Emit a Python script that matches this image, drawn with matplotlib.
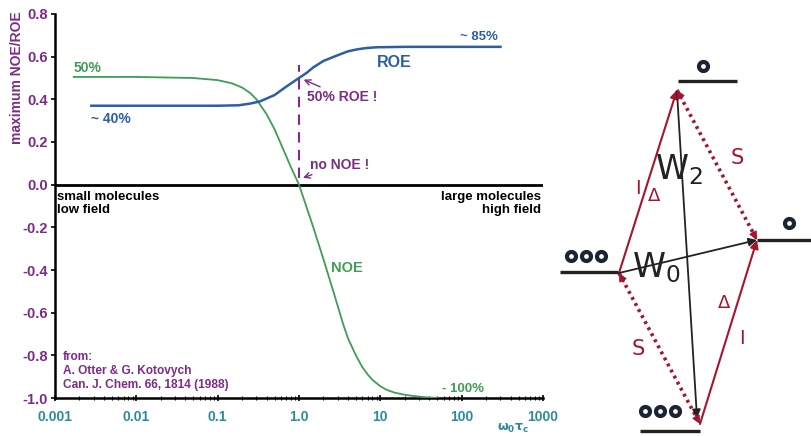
import matplotlib
matplotlib.use("Agg")
import matplotlib.pyplot as plt
from matplotlib.ticker import FixedLocator, FixedFormatter, LogLocator, NullFormatter

plt.rcParams['font.family'] = ['Liberation Sans', 'DejaVu Sans']

# omega0*tau_c values and maximum enhancement
noe_wt = [0.0017, 0.01, 0.05, 0.1, 0.15, 0.2, 0.25, 0.3, 0.4, 0.5, 0.65, 0.8, 1.0,
          1.2, 1.5, 2.0, 2.5, 3.0, 3.5, 4.0, 5.0, 6.0, 7.0, 8.0, 10.0, 12.0, 15.0,
          20.0, 25.0, 35.0, 50.0]
noe_val = [0.505, 0.505, 0.50, 0.49, 0.475, 0.455, 0.43, 0.40, 0.33, 0.26, 0.16, 0.08, 0.0,
           -0.09, -0.20, -0.35, -0.47, -0.57, -0.655, -0.72, -0.80, -0.855, -0.89, -0.915,
           -0.945, -0.962, -0.975, -0.985, -0.99, -0.996, -1.0]

roe_wt = [0.0028, 0.01, 0.05, 0.1, 0.18, 0.25, 0.33, 0.5, 0.7, 1.0, 1.25, 1.5, 2.0, 2.7,
          3.3, 4.0, 5.0, 6.0, 7.0, 9.0, 20.0, 100.0, 300.0]
roe_val = [0.37, 0.37, 0.37, 0.37, 0.372, 0.38, 0.39, 0.42, 0.46, 0.50, 0.525, 0.55, 0.58,
           0.60, 0.613, 0.625, 0.633, 0.638, 0.641, 0.644, 0.646, 0.646, 0.646]

xticks = [0.001, 0.01, 0.1, 1.0, 10, 100, 1000]
xtick_labels = ['0.001', '0.01', '0.1', '1.0', '10', '100', '1000']
yticks = [0.8, 0.6, 0.4, 0.2, 0.0, -0.2, -0.4, -0.6, -0.8, -1.0]
ytick_labels = ['0.8', '0.6', '0.4', '0.2', '0.0', '-0.2', '-0.4', '-0.6', '-0.8', '-1.0']

GREEN = '#3f9d55'
BLUE = '#2c5ea6'
PURPLE = '#7b2c86'
TEAL = '#2b8a9c'
RED = '#a3162e'
INK = '#222222'

fig = plt.figure(figsize=(8.12, 4.36), dpi=100)
ax = fig.add_axes([55 / 812, 38 / 436, 488 / 812, 384 / 436])

ax.plot(noe_wt, noe_val, color=GREEN, lw=1.3, zorder=3)
ax.plot(roe_wt, roe_val, color=BLUE, lw=1.8, zorder=3)
ax.axhline(0.0, color='black', lw=2.0, zorder=2)

# position where NOE vanishes and ROE reaches half of its range
ax.plot([1.0, 1.0], [0.03, 0.56], color=PURPLE, lw=1.5, ls=(0, (5, 3.5)), zorder=4)

ax.set_xscale('log')
ax.set_xlim(0.001, 1000)
ax.set_ylim(-1.0, 0.8)
for s in ['top', 'right']:
    ax.spines[s].set_visible(False)
for s in ['left', 'bottom']:
    ax.spines[s].set_linewidth(1.8)

ax.xaxis.set_major_locator(FixedLocator(xticks))
ax.xaxis.set_major_formatter(FixedFormatter(xtick_labels))
ax.xaxis.set_minor_locator(LogLocator(base=10, subs=range(2, 10)))
ax.xaxis.set_minor_formatter(NullFormatter())
ax.set_yticks(yticks)
ax.set_yticklabels(ytick_labels)
ax.tick_params(axis='x', which='major', direction='inout', length=5, width=1.2,
               labelcolor=TEAL, labelsize=10, pad=6)
ax.tick_params(axis='x', which='minor', direction='inout', length=3, width=0.8)
ax.tick_params(axis='y', direction='out', length=3, width=1.2,
               labelcolor=PURPLE, labelsize=10.5, pad=2)
for lab in ax.get_xticklabels() + ax.get_yticklabels():
    lab.set_fontweight('bold')

bold = dict(fontweight='bold')
ax.text(0.0017, 0.53, '50%', color=GREEN, fontsize=10, **bold)
ax.text(0.0028, 0.29, '~ 40%', color=BLUE, fontsize=10, **bold)
ax.text(95, 0.68, '~ 85%', color=BLUE, fontsize=9.5, **bold)
ax.text(9.0, 0.55, 'ROE', color=BLUE, fontsize=11.5, **bold)
ax.text(2.5, -0.41, 'NOE', color=GREEN, fontsize=10.5, **bold)
ax.text(58, -0.97, '- 100%', color=GREEN, fontsize=9.5, **bold)
ax.text(0.00105, -0.03, 'small molecules\nlow field', color='black', fontsize=9.5,
        va='top', ha='left', linespacing=1.05, **bold)
ax.text(950, -0.03, 'large molecules\nhigh field', color='black', fontsize=9.5,
        va='top', ha='right', linespacing=1.05, **bold)
ax.text(0.00125, -0.78, 'from:\nA. Otter & G. Kotovych\nCan. J. Chem. 66, 1814 (1988)',
        color=PURPLE, fontsize=8.6, va='top', linespacing=1.2, **bold)

ax.annotate('50% ROE !', xy=(1.1, 0.495), xytext=(1.27, 0.38), color=PURPLE,
            fontsize=10, fontweight='bold', va='bottom',
            arrowprops=dict(arrowstyle='->', color=PURPLE, lw=1.0, shrinkA=0, shrinkB=1))
ax.annotate('no NOE !', xy=(1.08, 0.03), xytext=(1.35, 0.06), color=PURPLE,
            fontsize=10, fontweight='bold', va='bottom',
            arrowprops=dict(arrowstyle='->', color=PURPLE, lw=1.0, shrinkA=0, shrinkB=1))

fig.text(17 / 812, 1 - 78 / 436, 'maximum NOE/ROE', rotation=90, color=PURPLE,
         fontsize=10, fontweight='bold', ha='center', va='center')
fig.text(497 / 812, 1 / 436, r'$\mathbf{\omega_0\tau_c}$', color=TEAL, fontsize=9,
         ha='left', va='bottom')

# energy level scheme for the two-spin system, in pixel coordinates
dg = fig.add_axes([560 / 812, 0, 252 / 812, 1])
dg.set_xlim(560, 812)
dg.set_ylim(436, 0)
dg.axis('off')

level_x = {'T': (678, 737), 'R': (757, 812), 'L': (560, 618), 'B': (640, 700)}
level_y = {'T': 81, 'R': 240, 'L': 272, 'B': 431}
node = {'T': (677, 90), 'R': (757, 240), 'L': (619, 273), 'B': (700, 424)}
spin_marks = {'T': [(703, 66)], 'R': [(789, 223)],
              'L': [(571, 256), (586, 256), (601, 256)],
              'B': [(645, 411), (660, 411), (675, 411)]}

for k in level_x:
    dg.plot(level_x[k], [level_y[k]] * 2, color=INK, lw=2.4, solid_capstyle='butt')
    xs = [p[0] for p in spin_marks[k]]
    ys = [p[1] for p in spin_marks[k]]
    dg.scatter(xs, ys, s=42, facecolor='white', edgecolor='#1c2333', linewidth=3.0, zorder=5)


def arrow(a, b, color, lw=1.5, style='-|>'):
    dg.annotate('', xy=b, xytext=a,
                arrowprops=dict(arrowstyle=style, color=color, lw=lw,
                                shrinkA=0, shrinkB=0, mutation_scale=12))


def dotted(a, b):
    dg.plot([a[0], b[0]], [a[1], b[1]], color=RED, lw=2.6, ls=(0, (0.8, 1.1)))
    for p, q in [(a, b), (b, a)]:
        tip = q
        tail = (q[0] + (p[0] - q[0]) * 0.06, q[1] + (p[1] - q[1]) * 0.06)
        arrow(tail, tip, RED, lw=1.0)


arrow(node['L'], node['T'], RED)
arrow(node['B'], node['R'], RED)
arrow((677, 92), (697, 418), INK, lw=1.3)
arrow(node['L'], node['R'], INK, lw=1.3)
dotted(node['T'], node['R'])
dotted(node['L'], node['B'])

dg.text(638, 188, 'I', color=RED, fontsize=14, ha='center', va='center',
        family='DejaVu Sans')
dg.text(654, 196, '\u0394', color=RED, fontsize=13, ha='center', va='center',
        family='DejaVu Sans')
dg.text(724, 303, '\u0394', color=RED, fontsize=13, ha='center', va='center',
        family='DejaVu Sans')
dg.text(742, 338, 'I', color=RED, fontsize=14, ha='center', va='center',
        family='DejaVu Sans')
dg.text(737, 158, 'S', color=RED, fontsize=15, ha='center', va='center',
        family='DejaVu Sans')
dg.text(638, 349, 'S', color=RED, fontsize=15, ha='center', va='center',
        family='DejaVu Sans')
dg.text(679, 170, r'W$_2$', color=INK, fontsize=24, ha='center', va='center',
        family='DejaVu Sans')
dg.text(656, 268, r'W$_0$', color=INK, fontsize=24, ha='center', va='center',
        family='DejaVu Sans')

fig.savefig('out.png', dpi=100)
